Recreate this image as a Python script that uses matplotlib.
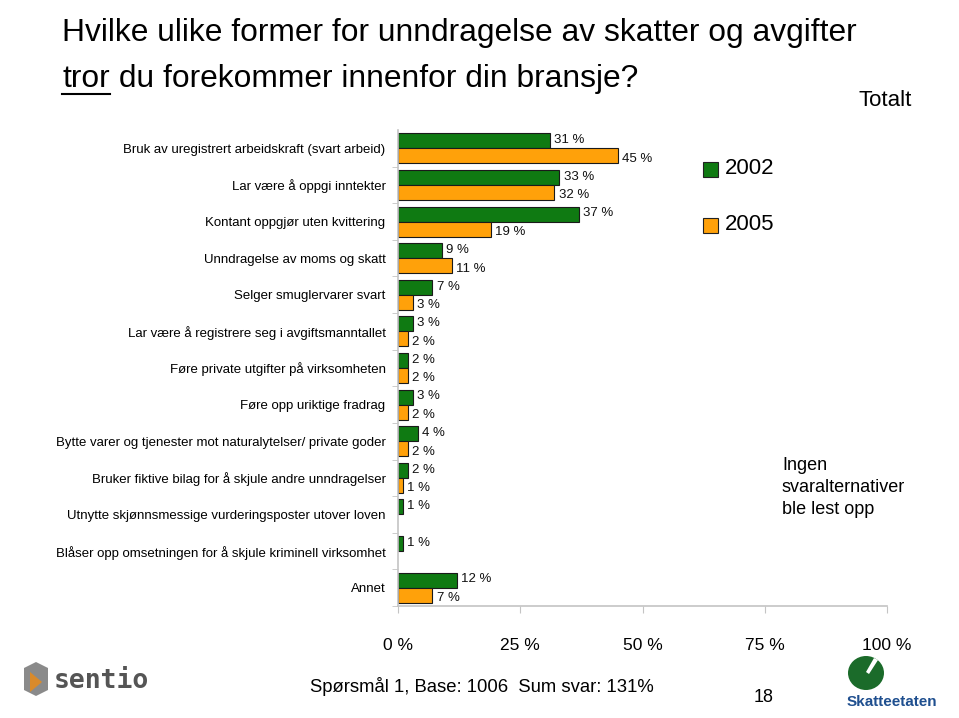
import matplotlib
matplotlib.use("Agg")
import matplotlib.pyplot as plt
from matplotlib.patches import Ellipse, Rectangle, Polygon
from matplotlib.lines import Line2D
import numpy as np

categories = [
    "Bruk av uregistrert arbeidskraft (svart arbeid)",
    "Lar være å oppgi inntekter",
    "Kontant oppgjør uten kvittering",
    "Unndragelse av moms og skatt",
    "Selger smuglervarer svart",
    "Lar være å registrere seg i avgiftsmanntallet",
    "Føre private utgifter på virksomheten",
    "Føre opp uriktige fradrag",
    "Bytte varer og tjenester mot naturalytelser/ private goder",
    "Bruker fiktive bilag for å skjule andre unndragelser",
    "Utnytte skjønnsmessige vurderingsposter utover loven",
    "Blåser opp omsetningen for å skjule kriminell virksomhet",
    "Annet",
]
values_2002 = [31, 33, 37, 9, 7, 3, 2, 3, 4, 2, 1, 1, 12]
values_2005 = [45, 32, 19, 11, 3, 2, 2, 2, 2, 1, None, None, 7]
series_names = ["2002", "2005"]
xticks = [0, 25, 50, 75, 100]
xticklabels = ["0 %", "25 %", "50 %", "75 %", "100 %"]

GREEN = "#0f7a12"
ORANGE = "#ffa10a"
SPINE = "#c4c4c4"
SANS = ["Liberation Sans", "DejaVu Sans"]

W, H = 959, 718
fig = plt.figure(figsize=(W / 100, H / 100), dpi=100)
fig.patch.set_facecolor("white")

def fx(px):
    return px / W

def fy(py):
    return 1 - py / H

ax = fig.add_axes([fx(398), fy(606), fx(887) - fx(398), fy(130) - fy(606)])

n = len(categories)
y = np.arange(n)
bh = 0.41
for i in range(n):
    v1 = values_2002[i]
    v2 = values_2005[i]
    if v1 is not None:
        ax.barh(y[i] - bh / 2, v1, height=bh, color=GREEN, edgecolor="#1a1a1a", linewidth=0.8)
        ax.text(v1 + 0.9, y[i] - bh / 2 - 0.02, f"{v1} %", va="center", ha="left",
                fontsize=9.5, family=SANS, color="#111111")
    if v2 is not None:
        ax.barh(y[i] + bh / 2, v2, height=bh, color=ORANGE, edgecolor="#1a1a1a", linewidth=0.8)
        ax.text(v2 + 0.9, y[i] + bh / 2 + 0.08, f"{v2} %", va="center", ha="left",
                fontsize=9.5, family=SANS, color="#111111")

ax.set_xlim(0, 100)
ax.set_ylim(n - 0.5, -0.5)
ax.set_yticks(y)
ax.set_yticklabels(categories, family=SANS, fontsize=9.5)
ax.tick_params(axis="y", which="major", length=0, pad=9)
ax.set_yticks(np.arange(-0.5, n, 1.0)[1:], minor=True)
ax.tick_params(axis="y", which="minor", length=4, color=SPINE, direction="out")
ax.set_xticks(xticks)
ax.set_xticklabels(xticklabels, family=SANS, fontsize=12.5)
ax.tick_params(axis="x", length=5, color=SPINE, direction="out", pad=18)
for s in ["top", "right"]:
    ax.spines[s].set_visible(False)
for s in ["left", "bottom"]:
    ax.spines[s].set_color(SPINE)
    ax.spines[s].set_linewidth(1.2)

# Title
TS = 22.9
fig.text(fx(62), fy(33), "Hvilke ulike former for unndragelse av skatter og avgifter",
         fontsize=TS, family=SANS, va="center", ha="left")
t2a = fig.text(fx(62), fy(79), "tror", fontsize=TS, family=SANS, va="center", ha="left")
fig.canvas.draw()
r = fig.canvas.get_renderer()
bb = t2a.get_window_extent(renderer=r)
fig.text(bb.x1 / W, fy(79), " du forekommer innenfor din bransje?", fontsize=TS,
         family=SANS, va="center", ha="left")
fig.add_artist(Line2D([bb.x0 / W, bb.x1 / W], [fy(94), fy(94)], color="black", linewidth=1.5,
                      transform=fig.transFigure))

fig.text(fx(912), fy(100), "Totalt", fontsize=16, family=SANS, ha="right", va="center")

# Legend
for col, name, py in [(GREEN, series_names[0], 169), (ORANGE, series_names[1], 225)]:
    fig.add_artist(Rectangle((fx(703), fy(py + 8)), fx(15), fy(0) - fy(15),
                             facecolor=col, edgecolor="#222222", linewidth=0.8,
                             transform=fig.transFigure))
    fig.text(fx(725), fy(py), name, fontsize=16, family=SANS, va="center", ha="left")

for txt, py in [("Ingen", 465), ("svaralternativer", 488), ("ble lest opp", 510)]:
    fig.text(fx(782), fy(py), txt, fontsize=13, family=SANS, va="center", ha="left")

# Footer
fig.text(fx(310), fy(686), "Spørsmål 1, Base: 1006  Sum svar: 131%", fontsize=13.3,
         family=SANS, va="center", ha="left")
fig.text(fx(764), fy(698), "18", fontsize=13, family=SANS, va="center", ha="center")

# Sentio logo (approximation)
fig.add_artist(Polygon([[fx(24), fy(668)], [fx(36), fy(662)], [fx(48), fy(668)],
                        [fx(48), fy(690)], [fx(36), fy(696)], [fx(24), fy(690)]],
                       closed=True, facecolor="#8a8a8a", edgecolor="none",
                       transform=fig.transFigure))
fig.add_artist(Polygon([[fx(30), fy(672)], [fx(42), fy(682)], [fx(30), fy(692)]],
                       closed=True, facecolor="#d98a2b", edgecolor="none",
                       transform=fig.transFigure))
fig.text(fx(54), fy(681), "sentio", fontsize=19, family=["DejaVu Sans Mono", "DejaVu Sans"],
         fontweight="bold", color="#555555", va="center", ha="left")

# Skatteetaten logo (approximation)
fig.add_artist(Ellipse((fx(866), fy(673)), fx(36), fy(0) - fy(34), facecolor="#1b6b2a",
                       edgecolor="none", transform=fig.transFigure))
fig.add_artist(Polygon([[fx(866), fy(672)], [fx(874), fy(658)], [fx(878), fy(660)],
                        [fx(869), fy(674)]], closed=True, facecolor="white",
                       edgecolor="none", transform=fig.transFigure))
fig.text(fx(892), fy(702), "Skatteetaten", fontsize=11, family=SANS, fontweight="bold",
         color="#1f4f8f", va="center", ha="center")

fig.savefig("out.png", dpi=100, facecolor="white")
